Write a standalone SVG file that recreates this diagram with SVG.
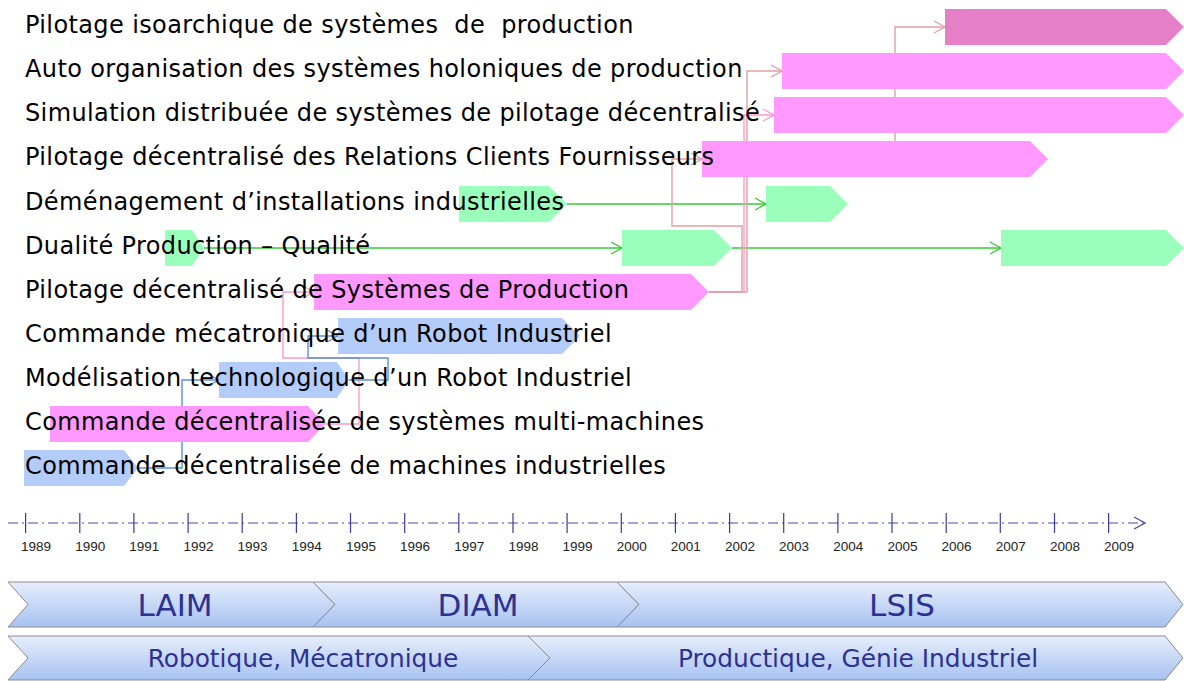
<svg xmlns="http://www.w3.org/2000/svg" width="1184" height="681" viewBox="0 0 1184 681">
<style>
.lbl{font-family:"DejaVu Sans",Verdana,sans-serif;font-size:24px;letter-spacing:0.38px;fill:#000;white-space:pre}
.pk{fill:#ff99ff}.pk2{fill:#e580c8}.gr{fill:#99ffbb}.bl{fill:#b4ccfa}
.cg{fill:none;stroke:#33cc33;stroke-width:1.3}
.cp{fill:none;stroke:#e0a0a4;stroke-width:1.4}
.cl{fill:none;stroke:#ff99cc;stroke-width:1.4}
.cb{fill:none;stroke:#5b8fd8;stroke-width:1.4}
.yr{font-family:"Liberation Sans",Arial,sans-serif;font-size:13.5px;fill:#222;text-anchor:middle}
.tk{stroke:#3a3a9a;stroke-width:1.2}
.chev{fill:url(#cg);stroke:#8c8c8c;stroke-width:1}
.ct{font-family:"DejaVu Sans",Verdana,sans-serif;fill:#2e3192;text-anchor:middle}
</style>
<defs>
<linearGradient id="cg" x1="0" y1="0" x2="0" y2="1"><stop offset="0" stop-color="#e6eefc"/><stop offset="1" stop-color="#a7c2f1"/></linearGradient>
<marker id="ag" markerWidth="13" markerHeight="14" refX="12" refY="7" orient="auto" markerUnits="userSpaceOnUse"><path d="M1,1 L12,7 L1,13" fill="none" stroke="#33cc33" stroke-width="1.3"/></marker>
<marker id="ap" markerWidth="13" markerHeight="14" refX="12" refY="7" orient="auto" markerUnits="userSpaceOnUse"><path d="M1,1 L12,7 L1,13" fill="none" stroke="#e0a0a4" stroke-width="1.4"/></marker>
<marker id="al" markerWidth="13" markerHeight="14" refX="12" refY="7" orient="auto" markerUnits="userSpaceOnUse"><path d="M1,1 L12,7 L1,13" fill="none" stroke="#ff99cc" stroke-width="1.4"/></marker>
<marker id="ab" markerWidth="13" markerHeight="14" refX="12" refY="7" orient="auto" markerUnits="userSpaceOnUse"><path d="M1,1 L12,7 L1,13" fill="none" stroke="#5b8fd8" stroke-width="1.4"/></marker>
<marker id="at" markerWidth="13" markerHeight="14" refX="12" refY="7" orient="auto" markerUnits="userSpaceOnUse"><path d="M1,1 L12,7 L1,13" fill="none" stroke="#4a4aa8" stroke-width="1.2"/></marker>
</defs>
<rect width="1184" height="681" fill="#fff"/>

<g id="connectors">
<path class="cg" d="M567,204 H766" marker-end="url(#ag)"/>
<path class="cg" d="M204,248 H622" marker-end="url(#ag)"/>
<path class="cg" d="M732,248 H1001" marker-end="url(#ag)"/>
<path class="cp" d="M709,292 H747 V71 H782" marker-end="url(#ap)"/>
<path class="cl" d="M709,292 H744 V115 H774" marker-end="url(#al)"/>
<path class="cp" d="M709,292 H742 V226 H672 V159 H702" marker-end="url(#ap)"/>
<path class="cp" d="M895,141 V27 H945" marker-end="url(#ap)"/>
<path class="cl" d="M325,424 H359 V358 H283 V292 H314" marker-end="url(#al)"/>
<path class="cb" d="M138,468 H182 V380 H219" marker-end="url(#ab)"/>
<path class="cb" d="M349,380 H388 V358 H308 V336 H338" marker-end="url(#ab)"/>
</g>

<g id="n1"><path class="pk2" d="M945,9 H1166 L1184,27 L1166,45 H945 Z"/><text class="lbl" x="25" y="33">Pilotage isoarchique de systèmes  de  production</text></g>
<g id="n2"><path class="pk" d="M782,53 H1166 L1184,71 L1166,89 H782 Z"/><text class="lbl" x="25" y="77">Auto organisation des systèmes holoniques de production</text></g>
<g id="n3"><path class="pk" d="M774,97 H1166 L1184,115 L1166,133 H774 Z"/><text class="lbl" x="25" y="121">Simulation distribuée de systèmes de pilotage décentralisé</text></g>
<g id="n4"><path class="pk" d="M702,141 H1030 L1048,159 L1030,177 H702 Z"/><text class="lbl" x="25" y="165">Pilotage décentralisé des Relations Clients Fournisseurs</text></g>
<g id="n5"><path class="gr" d="M459,186 H549 L567,204 L549,222 H459 Z"/><path class="gr" d="M766,186 H830 L848,204 L830,222 H766 Z"/><text class="lbl" x="25" y="210">Déménagement d’installations industrielles</text></g>
<g id="n6"><path class="gr" d="M165,230 H192 L204,248 L192,266 H165 Z"/><path class="gr" d="M622,230 H714 L732,248 L714,266 H622 Z"/><path class="gr" d="M1001,230 H1166 L1184,248 L1166,266 H1001 Z"/><text class="lbl" x="25" y="254">Dualité Production – Qualité</text></g>
<g id="n7"><path class="pk" d="M314,274 H691 L709,292 L691,310 H314 Z"/><text class="lbl" x="25" y="298">Pilotage décentralisé de Systèmes de Production</text></g>
<g id="n8"><path class="bl" d="M338,318 H562 L580,336 L562,354 H338 Z"/><text class="lbl" x="25" y="342">Commande mécatronique d’un Robot Industriel</text></g>
<g id="n9"><path class="bl" d="M219,362 H337 L349,380 L337,398 H219 Z"/><text class="lbl" x="25" y="386">Modélisation technologique d’un Robot Industriel</text></g>
<g id="n10"><path class="pk" d="M50,406 H308 L325,424 L308,442 H50 Z"/><text class="lbl" x="25" y="430">Commande décentralisée de systèmes multi-machines</text></g>
<g id="n11"><path class="bl" d="M24,450 H124 L138,468 L124,486 H24 Z"/><text class="lbl" x="25" y="474">Commande décentralisée de machines industrielles</text></g>

<g id="timeline">
<path d="M8,523 H1145" fill="none" stroke="#4a4aa8" stroke-width="1.2" stroke-dasharray="10 4 2 4" marker-end="url(#at)"/>
<g class="tk">
<line x1="25.6" y1="513" x2="25.6" y2="533"/><line x1="79.8" y1="513" x2="79.8" y2="533"/><line x1="133.9" y1="513" x2="133.9" y2="533"/><line x1="188.1" y1="513" x2="188.1" y2="533"/><line x1="242.2" y1="513" x2="242.2" y2="533"/><line x1="296.4" y1="513" x2="296.4" y2="533"/><line x1="350.5" y1="513" x2="350.5" y2="533"/><line x1="404.7" y1="513" x2="404.7" y2="533"/><line x1="458.8" y1="513" x2="458.8" y2="533"/><line x1="513" y1="513" x2="513" y2="533"/><line x1="567.1" y1="513" x2="567.1" y2="533"/><line x1="621.3" y1="513" x2="621.3" y2="533"/><line x1="675.4" y1="513" x2="675.4" y2="533"/><line x1="729.6" y1="513" x2="729.6" y2="533"/><line x1="783.7" y1="513" x2="783.7" y2="533"/><line x1="837.9" y1="513" x2="837.9" y2="533"/><line x1="892" y1="513" x2="892" y2="533"/><line x1="946.2" y1="513" x2="946.2" y2="533"/><line x1="1000.3" y1="513" x2="1000.3" y2="533"/><line x1="1054.5" y1="513" x2="1054.5" y2="533"/><line x1="1108.6" y1="513" x2="1108.6" y2="533"/>
</g>
<text class="yr" x="36" y="551">1989</text><text class="yr" x="90.2" y="551">1990</text><text class="yr" x="144.3" y="551">1991</text><text class="yr" x="198.5" y="551">1992</text><text class="yr" x="252.6" y="551">1993</text><text class="yr" x="306.8" y="551">1994</text><text class="yr" x="360.9" y="551">1995</text><text class="yr" x="415.1" y="551">1996</text><text class="yr" x="469.2" y="551">1997</text><text class="yr" x="523.4" y="551">1998</text><text class="yr" x="577.5" y="551">1999</text><text class="yr" x="631.7" y="551">2000</text><text class="yr" x="685.8" y="551">2001</text><text class="yr" x="740" y="551">2002</text><text class="yr" x="794.1" y="551">2003</text><text class="yr" x="848.3" y="551">2004</text><text class="yr" x="902.4" y="551">2005</text><text class="yr" x="956.6" y="551">2006</text><text class="yr" x="1010.7" y="551">2007</text><text class="yr" x="1064.9" y="551">2008</text><text class="yr" x="1119" y="551">2009</text>
</g>

<g id="laim"><path class="chev" d="M8,582 H313 L335,604.5 L313,627 H8 L28,604.5 Z"/><text class="ct" x="175" y="616" font-size="31">LAIM</text></g>
<g id="diam"><path class="chev" d="M313,582 H617 L639,604.5 L617,627 H313 L335,604.5 Z"/><text class="ct" x="478" y="616" font-size="31">DIAM</text></g>
<g id="lsis"><path class="chev" d="M617,582 H1165 L1183,604.5 L1165,627 H617 L639,604.5 Z"/><text class="ct" x="902" y="616" font-size="31">LSIS</text></g>
<g id="robotique"><path class="chev" d="M8,636 H528 L550,658 L528,680 H8 L28,658 Z"/><text class="ct" x="303" y="667" font-size="24.8">Robotique, Mécatronique</text></g>
<g id="productique"><path class="chev" d="M528,636 H1165 L1183,658 L1165,680 H528 L550,658 Z"/><text class="ct" x="858" y="667" font-size="24.8">Productique, Génie Industriel</text></g>
</svg>
